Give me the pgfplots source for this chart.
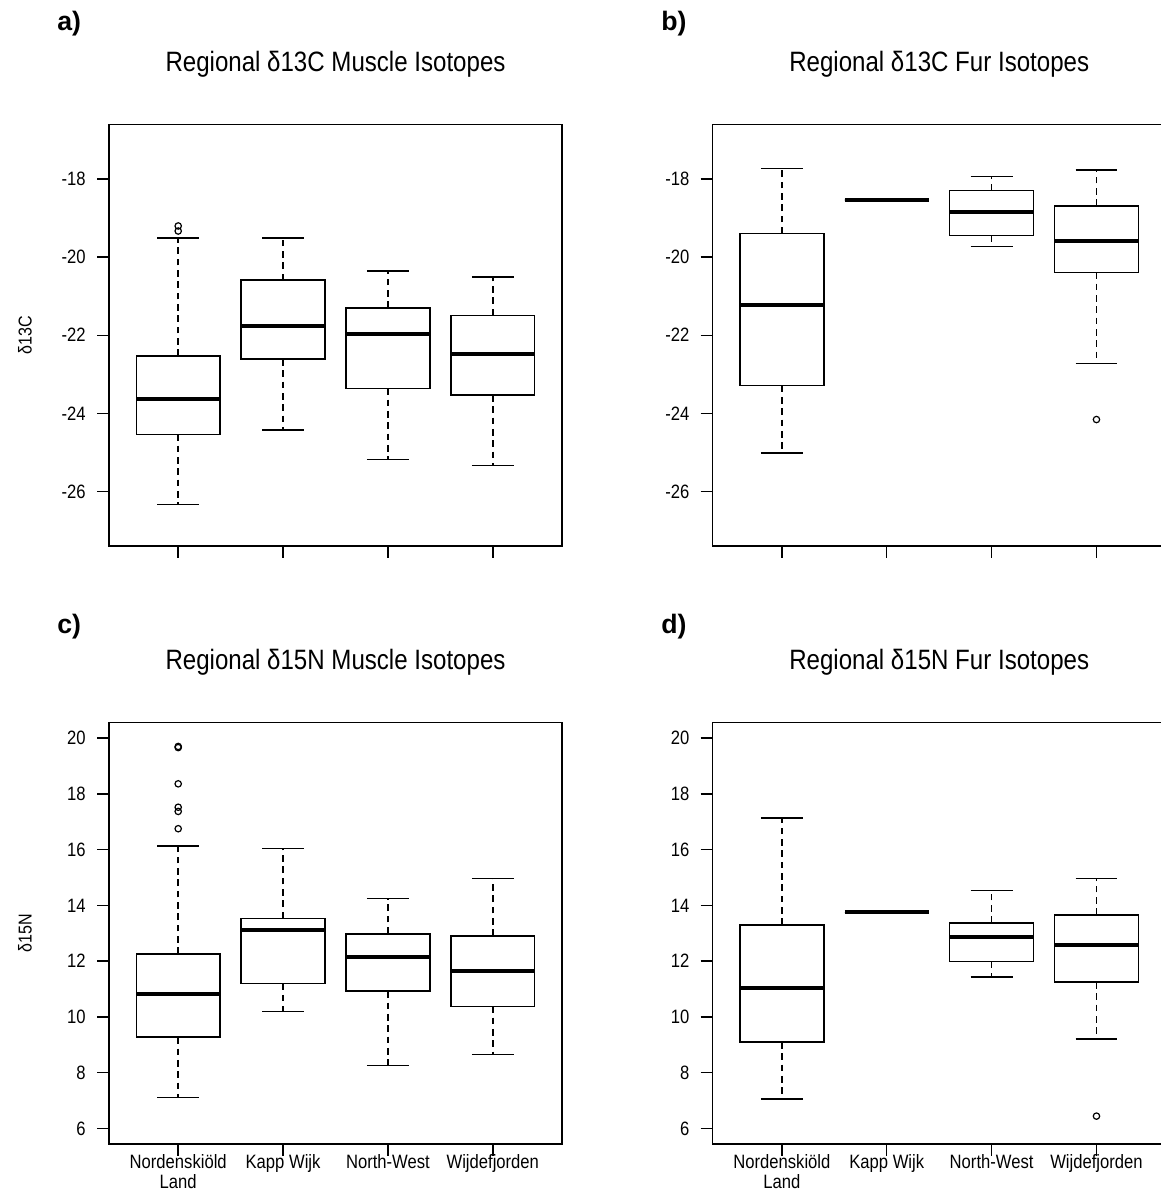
\documentclass[border=0pt]{standalone}
\usepackage{fontspec}
\setmainfont{Liberation Sans}[FakeStretch=0.86]
\newfontfamily\letterfont{Liberation Sans}
\usepackage{pgfplots}
\pgfplotsset{compat=1.18}
\usepgfplotslibrary{statistics}

\pgfplotsset{
  rpanel/.style={
    scale only axis, width=339.75pt, height=316.125pt,
    xmin=0.34, xmax=4.66, xtick={1,2,3,4},
    tick pos=left, tick align=outside, major tick length=9pt,
    axis line style={line width=1.1pt, black},
    every tick/.style={line width=1.1pt, black},
    tick label style={font=\fontsize{14.5}{15.5}\selectfont, black},
    yticklabel style={xshift=-5pt},
    xticklabel style={align=center, yshift=4.8pt},
    /pgf/number format/assume math mode=true,
    clip=false,
  },
  rbp/.style={
    black, line width=1.1pt, solid,
    mark=o, mark size=2.4pt, mark options={line width=0.9pt, solid},
    boxplot/draw direction=y,
    boxplot/box extend=0.8,
    boxplot/whisker extend=0.4,
    boxplot/every median/.style={line width=3pt},
    boxplot/draw/lower whisker/.code={%
      \draw[line width=1.1pt, dash pattern=on 5pt off 3.5pt]
        (boxplot box cs:\pgfplotsboxplotvalue{lower quartile},0.5) --
        (boxplot whisker cs:\pgfplotsboxplotvalue{lower whisker},0.5);
      \draw[line width=1.1pt]
        (boxplot whisker cs:\pgfplotsboxplotvalue{lower whisker},0) --
        (boxplot whisker cs:\pgfplotsboxplotvalue{lower whisker},1);
    },
    boxplot/draw/upper whisker/.code={%
      \draw[line width=1.1pt, dash pattern=on 5pt off 3.5pt]
        (boxplot box cs:\pgfplotsboxplotvalue{upper quartile},0.5) --
        (boxplot whisker cs:\pgfplotsboxplotvalue{upper whisker},0.5);
      \draw[line width=1.1pt]
        (boxplot whisker cs:\pgfplotsboxplotvalue{upper whisker},0) --
        (boxplot whisker cs:\pgfplotsboxplotvalue{upper whisker},1);
    },
  },
}

% #1 position, #2 lower whisker, #3 lower quartile, #4 median,
% #5 upper quartile, #6 upper whisker; outliers follow as a table
\newcommand\rbox[6]{\addplot[rbp, boxplot prepared={draw position=#1,
  lower whisker=#2, lower quartile=#3, median=#4,
  upper quartile=#5, upper whisker=#6}]}

\newcommand\paneltitle[1]{\fontsize{21}{25}\selectfont #1}
\newcommand\panelletter[1]{\letterfont\fontsize{20}{24}\selectfont\bfseries #1}
\newcommand\ylab[1]{\fontsize{14}{17}\selectfont #1}

\begin{document}
\begin{tikzpicture}[x=0.75pt, y=0.75pt]

% a) delta 13C muscle
\begin{axis}[rpanel, at={(81.75pt,483.75pt)}, anchor=south west,
  ymin=-27.4, ymax=-16.6, ytick={-26,-24,-22,-20,-18}, xticklabels={,,,}]
  \rbox{1}{-26.34}{-24.54}{-23.63}{-22.53}{-19.51} table[row sep=\\, y index=0] {y\\ -19.20\\ -19.33\\};
  \rbox{2}{-24.43}{-22.61}{-21.77}{-20.59}{-19.51} coordinates {};
  \rbox{3}{-25.19}{-23.36}{-21.97}{-21.30}{-20.35} coordinates {};
  \rbox{4}{-25.34}{-23.53}{-22.49}{-21.49}{-20.51} coordinates {};
\end{axis}

% b) delta 13C fur
\begin{axis}[rpanel, at={(534.5pt,483.75pt)}, anchor=south west,
  ymin=-27.4, ymax=-16.6, ytick={-26,-24,-22,-20,-18}, xticklabels={,,,}]
  \rbox{1}{-25.02}{-23.29}{-21.22}{-19.40}{-17.73} coordinates {};
  \rbox{2}{-18.53}{-18.53}{-18.53}{-18.53}{-18.53} coordinates {};
  \rbox{3}{-19.72}{-19.44}{-18.84}{-18.29}{-17.93} coordinates {};
  \rbox{4}{-22.73}{-20.39}{-19.59}{-18.69}{-17.77} table[row sep=\\, y index=0] {y\\ -24.16\\};
\end{axis}

% c) delta 15N muscle
\begin{axis}[rpanel, at={(81.75pt,35.25pt)}, anchor=south west,
  ymin=5.44, ymax=20.56, ytick={6,8,...,20},
  xticklabels={{Nordenskiöld\\Land},Kapp Wijk,North-West,Wijdefjorden}]
  \rbox{1}{7.10}{9.27}{10.81}{12.25}{16.13} table[row sep=\\, y index=0] {y\\ 19.66\\ 19.70\\ 18.36\\ 17.52\\ 17.37\\ 16.75\\};
  \rbox{2}{10.20}{11.20}{13.10}{13.53}{16.04} coordinates {};
  \rbox{3}{8.26}{10.92}{12.15}{12.98}{14.24} coordinates {};
  \rbox{4}{8.66}{10.38}{11.66}{12.90}{14.97} coordinates {};
\end{axis}

% d) delta 15N fur
\begin{axis}[rpanel, at={(534.5pt,35.25pt)}, anchor=south west,
  ymin=5.44, ymax=20.56, ytick={6,8,...,20},
  xticklabels={{Nordenskiöld\\Land},Kapp Wijk,North-West,Wijdefjorden}]
  \rbox{1}{7.05}{9.10}{11.05}{13.30}{17.13} coordinates {};
  \rbox{2}{13.75}{13.75}{13.75}{13.75}{13.75} coordinates {};
  \rbox{3}{11.43}{11.98}{12.87}{13.37}{14.53} coordinates {};
  \rbox{4}{9.21}{11.25}{12.58}{13.65}{14.97} table[row sep=\\, y index=0] {y\\ 6.44\\};
\end{axis}

% titles
\node[anchor=base, inner sep=0] at (335.5,1119.3) {\paneltitle{Regional δ13C Muscle Isotopes}};
\node[anchor=base, inner sep=0] at (939.2,1119.3) {\paneltitle{Regional δ13C Fur Isotopes}};
\node[anchor=base, inner sep=0] at (335.5,521.5) {\paneltitle{Regional δ15N Muscle Isotopes}};
\node[anchor=base, inner sep=0] at (939.2,521.5) {\paneltitle{Regional δ15N Fur Isotopes}};

% panel letters
\node[anchor=base west, inner sep=0] at (57,1160) {\panelletter{a)}};
\node[anchor=base west, inner sep=0] at (661,1160) {\panelletter{b)}};
\node[anchor=base west, inner sep=0] at (57,557) {\panelletter{c)}};
\node[anchor=base west, inner sep=0] at (661,557) {\panelletter{d)}};

% y axis labels
\node[rotate=90, anchor=base, inner sep=0] at (31.7,856) {\ylab{δ13C}};
\node[rotate=90, anchor=base, inner sep=0] at (31.7,258) {\ylab{δ15N}};

\pgfresetboundingbox
\useasboundingbox (0,0) rectangle (1160,1191);
\end{tikzpicture}
\end{document}
